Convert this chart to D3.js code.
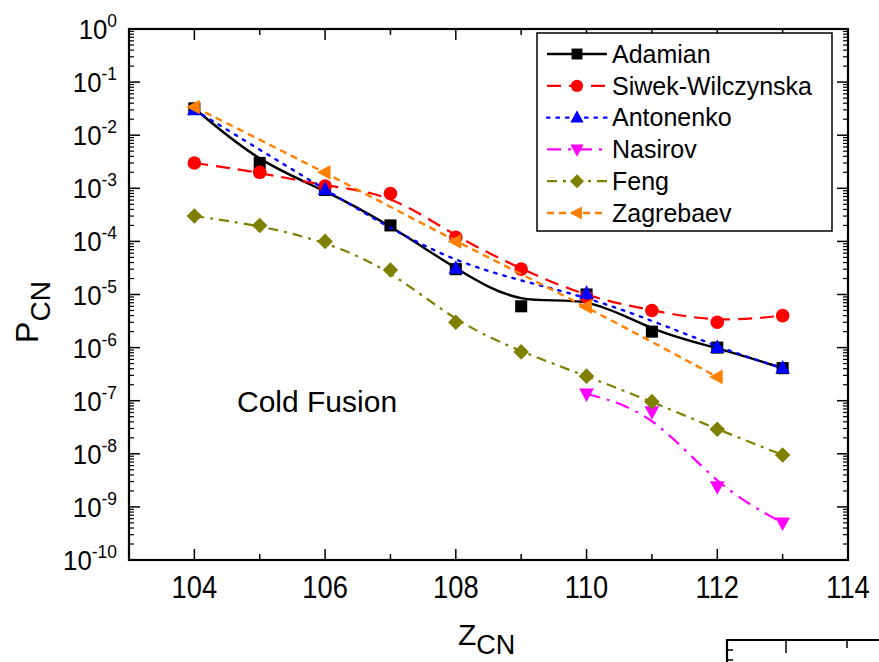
<!DOCTYPE html>
<html>
<head>
<meta charset="utf-8">
<script src="https://cdn.jsdelivr.net/npm/d3@7"></script>
<style>
  html, body { margin: 0; padding: 0; background: #fff; }
  svg { display: block; }
  text { font-family: "Liberation Sans", Arial, sans-serif; fill: #000; }
</style>
</head>
<body>
<svg id="chart" width="879" height="662"></svg>
<script>
// ---------- data ----------
const zAll = [104, 105, 106, 107, 108, 109, 110, 111, 112, 113];
const adamian = [3.2e-2, 3.0e-3, 9.3e-4, 2.0e-4, 3.0e-5, 6.0e-6, 1.0e-5, 2.0e-6, 1.0e-6, 4.1e-7];
const siwek = [3.0e-3, 2.0e-3, 1.1e-3, 8.0e-4, 1.2e-4, 3.0e-5, 9.0e-6, 5.0e-6, 3.0e-6, 4.0e-6];
const zAntonenko = [104, 106, 108, 110, 112, 113];
const antonenko = [3.0e-2, 9.5e-4, 3.1e-5, 1.05e-5, 1.0e-6, 4.1e-7];
const zNasirov = [110, 111, 112, 113];
const nasirov = [1.35e-7, 6.2e-8, 2.4e-9, 5.0e-10];
const feng = [3.0e-4, 2.0e-4, 1.0e-4, 2.9e-5, 3.0e-6, 8.3e-7, 2.9e-7, 9.6e-8, 2.9e-8, 9.5e-9];
const zZagrebaev = [104, 106, 108, 110, 112];
const zagrebaev = [3.4e-2, 2.0e-3, 1.0e-4, 5.9e-6, 2.8e-7];

const seriesNames = ["Adamian", "Siwek-Wilczynska", "Antonenko", "Nasirov", "Feng", "Zagrebaev"];
const xTickLabels = ["104", "106", "108", "110", "112", "114"];
const yExponents = [0, -1, -2, -3, -4, -5, -6, -7, -8, -9, -10];
const annotation = "Cold Fusion";

// ---------- styles ----------
const seriesStyle = [
  { color: "#000000", dash: null, width: 2.4, shape: "square" },
  { color: "#FF0000", dash: "14 8", width: 2.2, shape: "circle" },
  { color: "#0000FF", dash: "2.5 7", width: 2.4, shape: "triUp" },
  { color: "#FF00FF", dash: "14 7 3 7", width: 2.2, shape: "triDown" },
  { color: "#808000", dash: "10 6 3 6", width: 2.2, shape: "diamond" },
  { color: "#FF8000", dash: "7 5", width: 2.4, shape: "triLeft" }
];
const seriesData = [
  [zAll, adamian], [zAll, siwek], [zAntonenko, antonenko],
  [zNasirov, nasirov], [zAll, feng], [zZagrebaev, zagrebaev]
];

const svg = d3.select("#chart");
const X0 = 129, X1 = 848, Y0 = 29, Y1 = 560;
const x = d3.scaleLinear().domain([103, 114]).range([X0, X1]);
const y = d3.scaleLog().domain([1e-10, 1]).range([Y1, Y0]);

function markerPath(shape, k) {
  k = (k || 1) * 1.08;
  switch (shape) {
    case "square": { const s = 5.6 * k; return `M${-s},${-s}H${s}V${s}H${-s}Z`; }
    case "circle": { const r = 6.3 * k; return `M${r},0A${r},${r} 0 1,1 ${-r},0A${r},${r} 0 1,1 ${r},0Z`; }
    case "triUp": return `M0,${-7.5*k}L${6.8*k},${5*k}L${-6.8*k},${5*k}Z`;
    case "triDown": return `M0,${7.5*k}L${6.8*k},${-5*k}L${-6.8*k},${-5*k}Z`;
    case "diamond": return `M0,${-7.2*k}L${7.2*k},0L0,${7.2*k}L${-7.2*k},0Z`;
    case "triLeft": return `M${-7.5*k},0L${5*k},${-6.8*k}L${5*k},${6.8*k}Z`;
  }
}

// ---------- ticks ----------
const tickG = svg.append("g").attr("stroke", "#000").attr("stroke-width", 1.5);
d3.range(103, 115).forEach(v => {
  const len = (v % 2 === 0) ? 11 : 6;
  tickG.append("line").attr("x1", x(v)).attr("x2", x(v)).attr("y1", Y1).attr("y2", Y1 - len);
  tickG.append("line").attr("x1", x(v)).attr("x2", x(v)).attr("y1", Y0).attr("y2", Y0 + len);
});
yExponents.forEach(e => {
  const v = Math.pow(10, e);
  tickG.append("line").attr("x1", X0).attr("x2", X0 + 11).attr("y1", y(v)).attr("y2", y(v));
  tickG.append("line").attr("x1", X1).attr("x2", X1 - 11).attr("y1", y(v)).attr("y2", y(v));
  if (e > -10) {
    for (let m = 2; m <= 9; m++) {
      const mv = m * Math.pow(10, e - 1);
      tickG.append("line").attr("x1", X0).attr("x2", X0 + 5).attr("y1", y(mv)).attr("y2", y(mv)).attr("stroke-width", 1.2);
      tickG.append("line").attr("x1", X1).attr("x2", X1 - 5).attr("y1", y(mv)).attr("y2", y(mv)).attr("stroke-width", 1.2);
    }
  }
});

// frame
svg.append("rect").attr("x", X0).attr("y", Y0).attr("width", X1 - X0).attr("height", Y1 - Y0)
  .attr("fill", "none").attr("stroke", "#000").attr("stroke-width", 2.2);

// x tick labels (narrow, tall look)
xTickLabels.forEach(t => {
  svg.append("text").attr("transform", `translate(${x(+t)},598) scale(0.88,1)`)
    .attr("text-anchor", "middle").attr("font-size", 31).text(t);
});
// y tick labels
yExponents.forEach(e => {
  const t = svg.append("text")
    .attr("transform", `translate(117,${y(Math.pow(10, e)) + 10}) scale(0.92,1)`)
    .attr("text-anchor", "end").attr("font-size", 28);
  t.append("tspan").text("10");
  t.append("tspan").attr("font-size", 19).attr("dy", -12).text(String(e));
});

// axis titles
const xt = svg.append("text").attr("x", 458).attr("y", 645).attr("font-size", 30);
xt.append("tspan").text("Z");
xt.append("tspan").attr("dy", 9).attr("font-size", 27).text("CN");
const yt = svg.append("text").attr("transform", "translate(38,312) rotate(-90)")
  .attr("text-anchor", "middle").attr("font-size", 32);
yt.append("tspan").text("P");
yt.append("tspan").attr("dy", 12).attr("font-size", 28).text("CN");

// annotation
svg.append("text").attr("x", 237).attr("y", 412).attr("font-size", 30).text(annotation);

// ---------- series ----------
const line = d3.line().x(d => x(d[0])).y(d => y(d[1])).curve(d3.curveBasis);
seriesData.forEach((sd, i) => {
  const st = seriesStyle[i];
  const pts = sd[0].map((z, j) => [z, sd[1][j]]);
  const g = svg.append("g");
  g.append("path").attr("d", line(pts)).attr("fill", "none").attr("stroke", st.color)
    .attr("stroke-width", st.width).attr("stroke-dasharray", st.dash)
    .attr("stroke-linecap", st.shape === "triUp" ? "round" : "butt");
  g.selectAll("path.m").data(pts).join("path").attr("class", "m")
    .attr("d", markerPath(st.shape)).attr("transform", d => `translate(${x(d[0])},${y(d[1])})`)
    .attr("fill", st.color);
});

// ---------- legend ----------
const lg = svg.append("g");
lg.append("rect").attr("x", 537).attr("y", 33).attr("width", 295).attr("height", 198)
  .attr("fill", "#fff").attr("stroke", "#000").attr("stroke-width", 1.5);
seriesNames.forEach((name, i) => {
  const st = seriesStyle[i];
  const cy = 54 + i * 31.8;
  lg.append("line").attr("x1", 547).attr("x2", 607).attr("y1", cy).attr("y2", cy)
    .attr("stroke", st.color).attr("stroke-width", st.width).attr("stroke-dasharray", st.dash)
    .attr("stroke-linecap", st.shape === "triUp" ? "round" : "butt");
  lg.append("path").attr("d", markerPath(st.shape, 0.9)).attr("transform", `translate(577,${cy})`)
    .attr("fill", st.color);
  lg.append("text").attr("x", 612).attr("y", cy + 8.8).attr("font-size", 25).text(name);
});

// ---------- cropped neighbour frame (bottom right) ----------
const nb = svg.append("g").attr("stroke", "#000");
nb.append("line").attr("x1", 726).attr("x2", 879).attr("y1", 640).attr("y2", 640).attr("stroke-width", 2.2);
nb.append("line").attr("x1", 727).attr("x2", 727).attr("y1", 639).attr("y2", 662).attr("stroke-width", 2.2);
nb.append("line").attr("x1", 786).attr("x2", 786).attr("y1", 640).attr("y2", 653).attr("stroke-width", 1.5);
nb.append("line").attr("x1", 847).attr("x2", 847).attr("y1", 640).attr("y2", 648).attr("stroke-width", 1.5);
[650, 660].forEach(v => nb.append("line").attr("x1", 727).attr("x2", 733).attr("y1", v).attr("y2", v).attr("stroke-width", 1.5));
</script>
</body>
</html>
